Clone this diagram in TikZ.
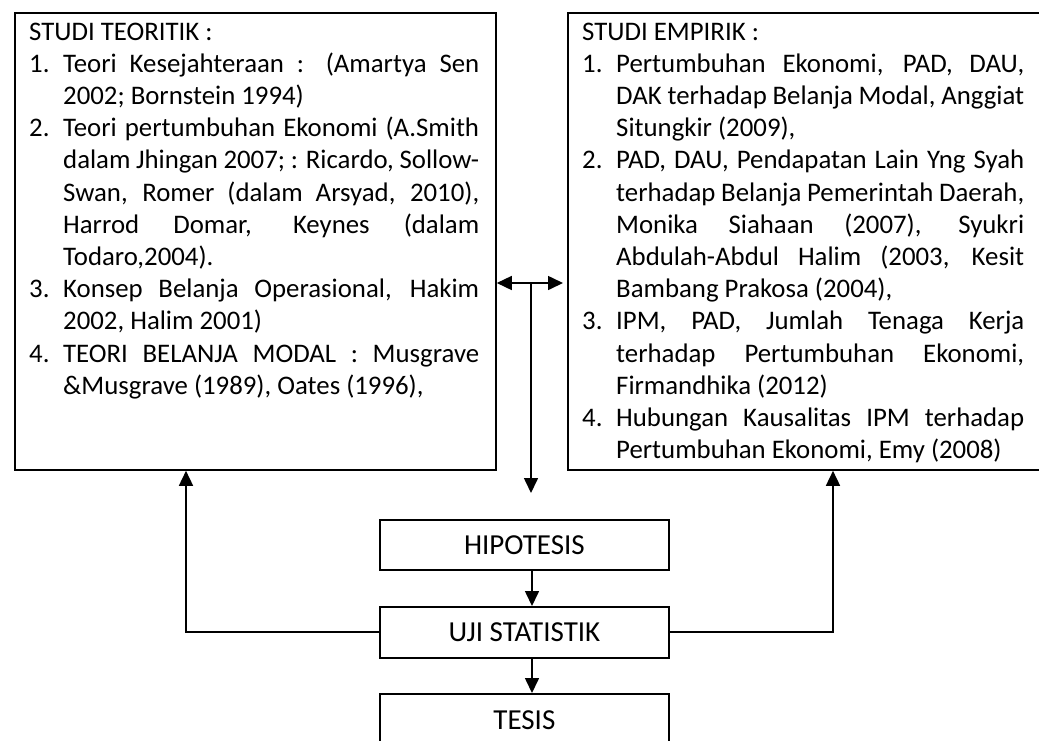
\documentclass[tikz,border=0pt]{standalone}
\usepackage{fontspec}
\setmainfont{Carlito}
\usetikzlibrary{arrows.meta}
\newcommand{\Lj}[1]{\makebox[416pt][s]{#1}}
\newcommand{\Rj}[1]{\makebox[408pt][s]{#1}}
\newcommand{\itemnum}[1]{\makebox[34pt][l]{#1}}
\newcommand{\ind}{\hspace*{34pt}}
\begin{document}
\begin{tikzpicture}[x=1pt,y=-1pt,
  box/.style={draw, line width=1.8pt, inner sep=0pt, anchor=north west},
  mbox/.style={box, minimum width=289pt, font=\fontsize{29pt}{34pt}\selectfont},
  txt/.style={anchor=base west, inner sep=0pt},
  conn/.style={line width=1.6pt, -{Triangle[length=15pt,width=14pt]}},
  dconn/.style={line width=1.6pt, {Triangle[length=15pt,width=14pt]}-{Triangle[length=15pt,width=14pt]}}]
\useasboundingbox (0,0) rectangle (1039,740);
% big boxes
\node[box, minimum width=481pt, minimum height=457pt] (teori) at (14,12) {};
\node[box, minimum width=480pt, minimum height=457pt] (empiris) at (567,12) {};
% texts
\node[txt] (teoriText) at (29,40) {\begin{minipage}[t]{450pt}\fontsize{26.8pt}{32.2pt}\selectfont\parindent=0pt
STUDI TEORITIK :\\
\itemnum{1.}\Lj{Teori Kesejahteraan : (Amartya Sen}\\
\ind 2002; Bornstein 1994)\\
\itemnum{2.}\Lj{Teori pertumbuhan Ekonomi (A.Smith}\\
\ind\Lj{dalam Jhingan 2007; : Ricardo, Sollow-}\\
\ind\Lj{Swan, Romer (dalam Arsyad, 2010),}\\
\ind\Lj{Harrod Domar, Keynes (dalam}\\
\ind Todaro,2004).\\
\itemnum{3.}\Lj{Konsep Belanja Operasional, Hakim}\\
\ind 2002, Halim 2001)\\
\itemnum{4.}\Lj{TEORI BELANJA MODAL : Musgrave}\\
\ind\&Musgrave (1989), Oates (1996),
\end{minipage}};
\node[txt] (empirisText) at (582,40) {\begin{minipage}[t]{442pt}\fontsize{26.8pt}{32.2pt}\selectfont\parindent=0pt
STUDI EMPIRIK :\\
\itemnum{1.}\Rj{Pertumbuhan Ekonomi, PAD, DAU,}\\
\ind\Rj{DAK terhadap Belanja Modal, Anggiat}\\
\ind Situngkir (2009),\\
\itemnum{2.}\Rj{PAD, DAU, Pendapatan Lain Yng Syah}\\
\ind\Rj{terhadap Belanja Pemerintah Daerah,}\\
\ind\Rj{Monika Siahaan (2007), Syukri}\\
\ind\Rj{Abdulah-Abdul Halim (2003, Kesit}\\
\ind Bambang Prakosa (2004),\\
\itemnum{3.}\Rj{IPM, PAD, Jumlah Tenaga Kerja}\\
\ind\Rj{terhadap Pertumbuhan Ekonomi,}\\
\ind Firmandhika (2012)\\
\itemnum{4.}\Rj{Hubungan Kausalitas IPM terhadap}\\
\ind Pertumbuhan Ekonomi, Emy (2008)
\end{minipage}};
% middle boxes
\node[mbox, minimum height=50pt] (hip) at (379,519) {HIPOTESIS};
\node[mbox, minimum height=51pt] (uji) at (379,606) {UJI STATISTIK};
\node[mbox, minimum height=52pt] (tesis) at (379,693) {TESIS};
% coordinates
\coordinate (mid) at (531,283);
\coordinate (drop) at (531,493);
\coordinate (ax) at (532,0);
\coordinate (lc) at (186,632);
\coordinate (rc) at (833,632);
% connectors
\draw[dconn] (teori.east |- mid) -- ([xshift=-4pt]empiris.west |- mid);
\draw[conn] (mid) -- (drop);
\draw[conn] (hip.south -| ax) -- (uji.north -| ax);
\draw[conn] (uji.south -| ax) -- (tesis.north -| ax);
\draw[conn] (uji.west |- lc) -- (lc) -- (lc |- teori.south);
\draw[conn] (uji.east |- rc) -- (rc) -- (rc |- empiris.south);
\end{tikzpicture}
\end{document}
